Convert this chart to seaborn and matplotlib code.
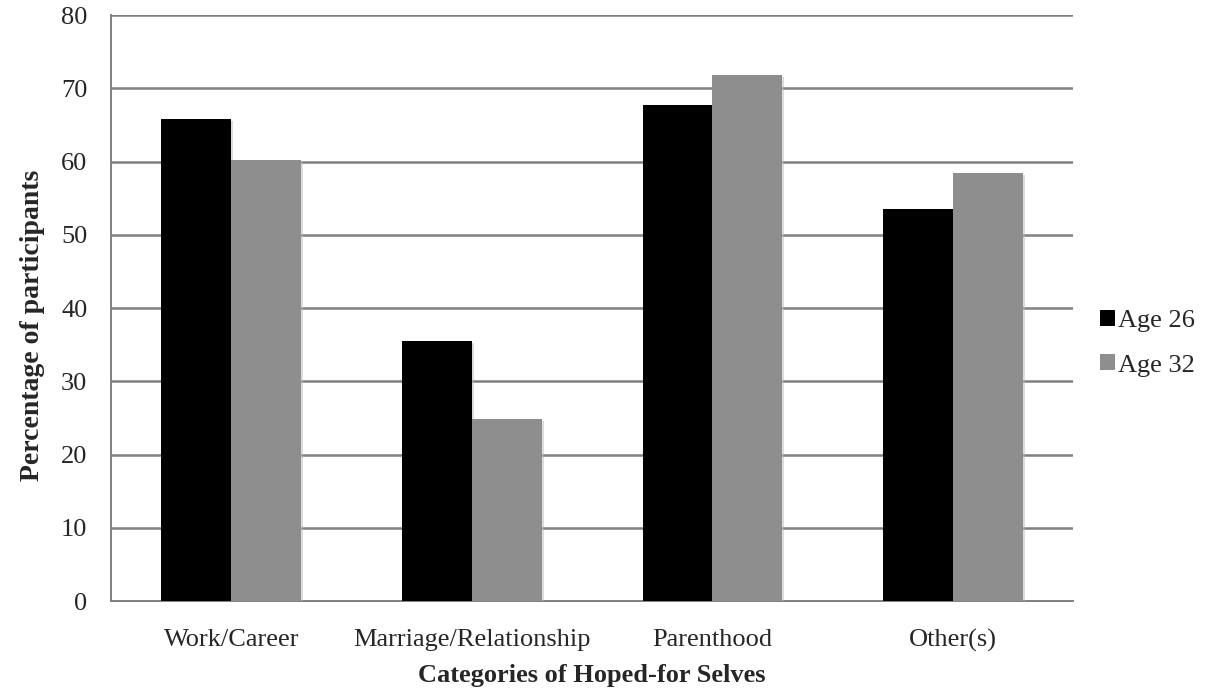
import pandas as pd
import matplotlib
matplotlib.use("Agg")
import matplotlib.pyplot as plt
import matplotlib.patheffects as pe
import seaborn as sns
from matplotlib.patches import Patch

# values
categories = ["Work/Career", "Marriage/Relationship", "Parenthood", "Other(s)"]
groups = ["Age 26", "Age 32"]
age26 = [65.8, 35.5, 67.8, 53.6]
age32 = [60.3, 24.9, 71.9, 58.5]
colors = ["#000000", "#8e8e8e"]

df = pd.DataFrame({
    "Category": categories * 2,
    "Group": [groups[0]] * 4 + [groups[1]] * 4,
    "Percent": age26 + age32,
})

sns.set_style("white")
plt.rcParams["font.family"] = ["Liberation Serif", "DejaVu Serif"]

fig = plt.figure(figsize=(12.06, 6.94), dpi=100)
ax = fig.add_axes([0.092, 0.134, 0.798, 0.844])

sns.barplot(data=df, x="Category", y="Percent", hue="Group", order=categories,
            hue_order=groups, palette=colors, width=0.58, saturation=1,
            edgecolor="none", linewidth=0, ax=ax, legend=False, zorder=3)

# soft shadow like the original office chart
for bar in ax.patches:
    bar.set_path_effects([pe.SimplePatchShadow(offset=(1.5, -1.5), shadow_rgbFace="#bbbbbb", alpha=0.5),
                          pe.Normal()])

grid_col = "#808080"
ax.set_ylim(0, 80)
ax.set_xlim(-0.5, 3.5)
ax.set_yticks(range(0, 81, 10))
for v in range(10, 81, 10):
    ax.axhline(v, color=grid_col, linewidth=1.8, zorder=1)

# category boundary ticks on x
ax.set_xticks([i - 0.5 for i in range(5)], minor=True)
ax.tick_params(axis="x", which="major", length=0, pad=20, labelsize=19)
ax.tick_params(axis="x", which="minor", length=7, width=1.2, color=grid_col, direction="out")
ax.tick_params(axis="y", length=7, width=1.2, color=grid_col, direction="out", labelsize=19, pad=10)

for s in ["top", "right"]:
    ax.spines[s].set_visible(False)
for s in ["left", "bottom"]:
    ax.spines[s].set_color(grid_col)
    ax.spines[s].set_linewidth(1.4)

ax.set_xlabel("Categories of Hoped-for Selves", fontsize=19, fontweight="bold", labelpad=9)
ax.set_ylabel("Percentage of participants", fontsize=20, fontweight="bold")
ax.yaxis.set_label_coords(-0.069, 0.47)

handles = [Patch(facecolor=c, edgecolor="none") for c in colors]
ax.legend(handles, groups, loc="center left", bbox_to_anchor=(1.028, 0.44), frameon=False,
          fontsize=19, handlelength=0.55, handleheight=0.55, handletextpad=0.12,
          labelspacing=0.85, borderpad=0, borderaxespad=0)

fig.savefig("out.png", dpi=100)
